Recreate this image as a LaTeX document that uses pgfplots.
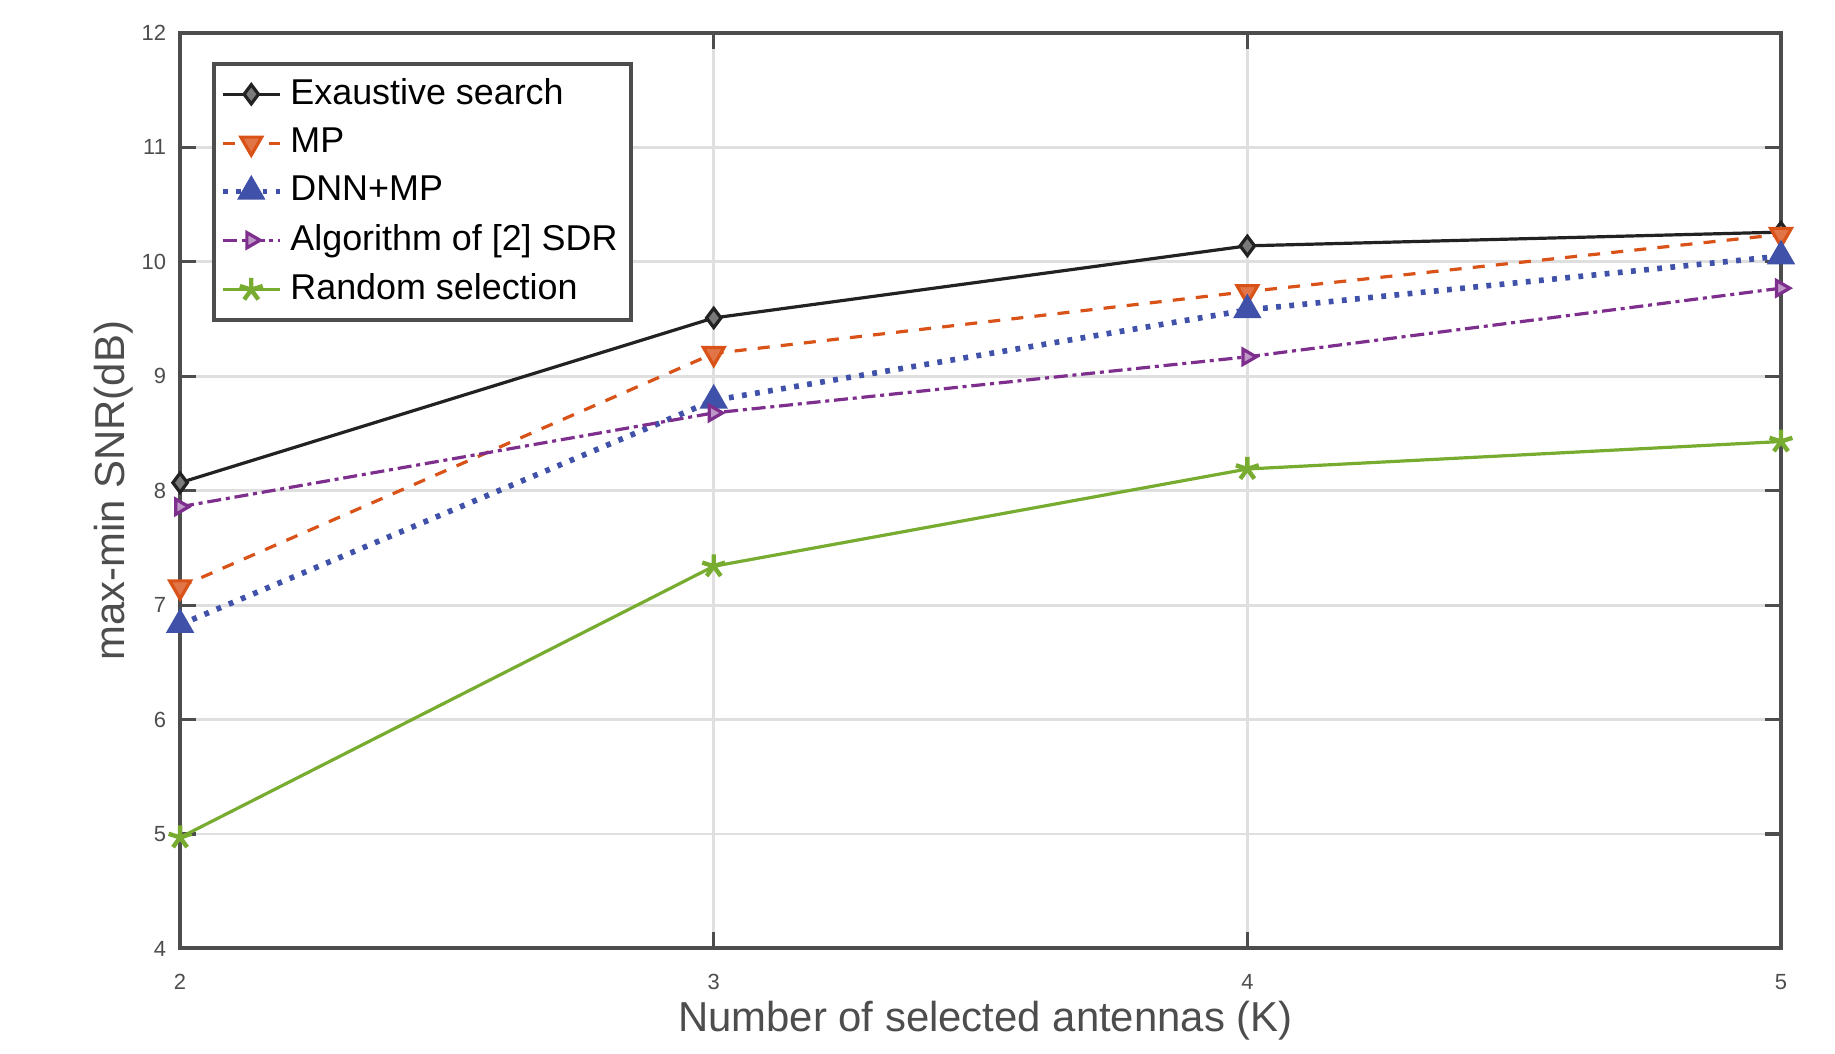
\documentclass[border=0pt]{standalone}
\usepackage{pgfplots}
\pgfplotsset{compat=1.18}
\usepackage{fontspec}
\setmainfont{Liberation Sans}

\definecolor{axgray}{RGB}{77,77,77}
\definecolor{gridgray}{RGB}{223,223,223}
\definecolor{cEx}{RGB}{34,34,34}
\definecolor{cMP}{RGB}{217,83,25}
\definecolor{cDNN}{RGB}{63,81,168}
\definecolor{cSDR}{RGB}{126,47,142}
\definecolor{cRnd}{RGB}{119,172,48}

\begin{document}
\begin{tikzpicture}
\begin{axis}[
    scale only axis,
    width=400bp, height=228.75bp,
    xmin=2, xmax=5, ymin=4, ymax=12,
    xtick={2,3,4,5}, ytick={4,5,...,12},
    grid=major,
    major grid style={gridgray, line width=0.7bp},
    axis line style={axgray, line width=1bp},
    tick style={axgray, line width=0.8bp},
    tick align=inside,
    major tick length=4bp,
    /pgf/number format/assume math mode=true,
    tick label style={font=\fontsize{5.5}{6}\selectfont, text=axgray},
    xticklabel style={yshift=-3bp},
    xlabel={Number of selected antennas (K)},
    ylabel={max-min SNR(dB)},
    label style={font=\fontsize{10.5}{12}\selectfont, text=axgray},
    xlabel style={at={(axis description cs:0.503,0)}, anchor=center, yshift=-18bp},
    ylabel style={at={(axis description cs:0,0.5)}, anchor=center, yshift=16.6bp},
    legend style={at={(axis description cs:0.02,0.968)}, anchor=north west,
        draw=axgray, line width=1bp, font=\fontsize{9}{10}\selectfont,
        row sep=0.4bp, inner sep=1.5bp},
    legend cell align=left,
    legend image code/.code={%
        \draw[mark repeat=2,mark phase=2] plot coordinates {(0cm,0cm) (0.25cm,0cm) (0.5cm,0cm)};},
]
\addplot[cEx, line width=0.8bp, mark=diamond*, mark size=2.4bp,
    mark options={solid, fill=cEx!60}]
    coordinates {(2,8.07) (3,9.51) (4,10.14) (5,10.26)};
\addlegendentry{Exaustive search}
\addplot[cMP, line width=0.8bp, dash pattern=on 3bp off 2.8bp, mark=triangle*, mark size=3bp,
    mark options={solid, rotate=180, fill=cMP!80}]
    coordinates {(2,7.16) (3,9.20) (4,9.74) (5,10.24)};
\addlegendentry{MP}
\addplot[cDNN, line width=1.4bp, dash pattern=on 1.2bp off 2.1bp, mark=triangle*, mark size=3.6bp,
    mark options={solid, fill=cDNN, line width=0.5bp}]
    coordinates {(2,6.83) (3,8.79) (4,9.58) (5,10.05)};
\addlegendentry{DNN+MP}
\addplot[cSDR, line width=0.8bp, dash pattern=on 3.5bp off 1.2bp on 1bp off 1.2bp, mark=triangle*, mark size=2.2bp,
    mark options={solid, rotate=-90, fill=cSDR!50}]
    coordinates {(2,7.86) (3,8.68) (4,9.17) (5,9.77)};
\addlegendentry{Algorithm of [2] SDR}
\addplot[cRnd, line width=0.8bp, mark=star, mark size=3bp,
    mark options={solid, line width=1.1bp}]
    coordinates {(2,4.97) (3,7.34) (4,8.19) (5,8.43)};
\addlegendentry{Random selection}
\end{axis}
\path ([shift={(-45bp,-26.25bp)}]current axis.south west) rectangle ([shift={(13.5bp,8.25bp)}]current axis.north east);
\end{tikzpicture}
\end{document}
